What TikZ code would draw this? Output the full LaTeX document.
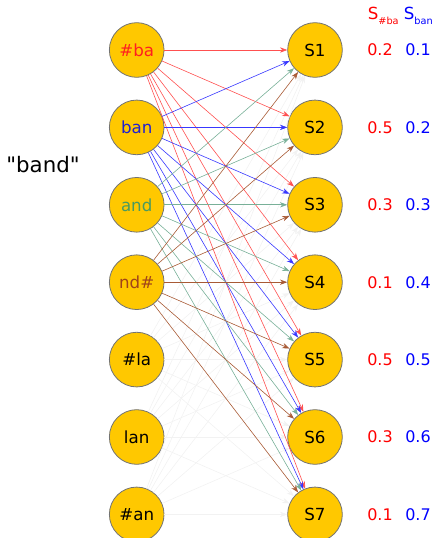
\documentclass[tikz,border=0pt]{standalone}
\usepackage{fontspec}
\setmainfont{DejaVu Sans}
\newfontfamily\qfont{DejaVu Sans}[Ligatures=TeXOff]
\usetikzlibrary{arrows.meta}
\definecolor{nodefill}{HTML}{FFC800}
\definecolor{cred}{HTML}{FF2020}
\definecolor{cblue}{HTML}{2020D0}
\definecolor{cgreen}{HTML}{4A9A60}
\definecolor{cbrown}{HTML}{A0441A}
\definecolor{ered}{HTML}{FF5050}
\definecolor{eblue}{HTML}{3838FF}
\definecolor{egreen}{HTML}{78B098}
\definecolor{ebrown}{HTML}{A85A35}
\definecolor{efaint}{HTML}{F2F2F2}
\tikzset{
  unit/.style={circle,draw=black!55,line width=0.6pt,fill=nodefill,minimum size=41pt,inner sep=0pt,font=\fontsize{12.5}{14}\selectfont},
  edge/.style={-{Stealth[length=5.5pt,width=4pt]},line width=0.45pt},
  val/.style={font=\fontsize{12}{14}\selectfont},
  head/.style={inner sep=0pt,anchor=base west,font=\fontsize{12.5}{14}\selectfont},
}
\newcommand{\hsub}[1]{\raisebox{-3.3pt}{\fontsize{7.3}{8}\selectfont #1}}
\begin{document}
\begin{tikzpicture}[x=0.75pt,y=-0.75pt]
\useasboundingbox (0,0) rectangle (434,538);
\foreach \t/\c [count=\i from 0] in {\#ba/cred,ban/cblue,and/cgreen,nd\#/cbrown,\#la/black,lan/black,\#an/black}{
  \node[unit,text=\c] (L\i) at (136.7,{50+77.4*\i}) {\t};
}
\foreach \i in {1,...,7}{
  \node[unit] (R\i) at (315,{50+77.4*(\i-1)}) {S\i};
}
\foreach \s in {4,5,6}{
  \foreach \j in {1,...,7}{
    \draw[edge,draw=efaint] (L\s) -- (R\j);
  }
}
\foreach \s/\c in {0/ered,1/eblue,2/egreen,3/ebrown}{
  \foreach \j in {1,...,7}{
    \draw[edge,draw=\c] (L\s) -- (R\j);
  }
}
\node[font=\fontsize{16}{19}\selectfont\qfont] (word) at (43,165) {"band"};
\node[head,text=red] (hred) at (367.5,20) {S\hsub{\#ba}};
\node[head,text=blue] (hblue) at (403.5,20) {S\hsub{ban}};
\foreach \a/\b [count=\i from 0] in {0.2/0.1,0.5/0.2,0.3/0.3,0.1/0.4,0.5/0.5,0.3/0.6,0.1/0.7}{
  \node[val,text=red] (vr\i) at (380,{50+77.4*\i}) {\a};
  \node[val,text=blue] (vb\i) at (418,{50+77.4*\i}) {\b};
}
\end{tikzpicture}
\end{document}
